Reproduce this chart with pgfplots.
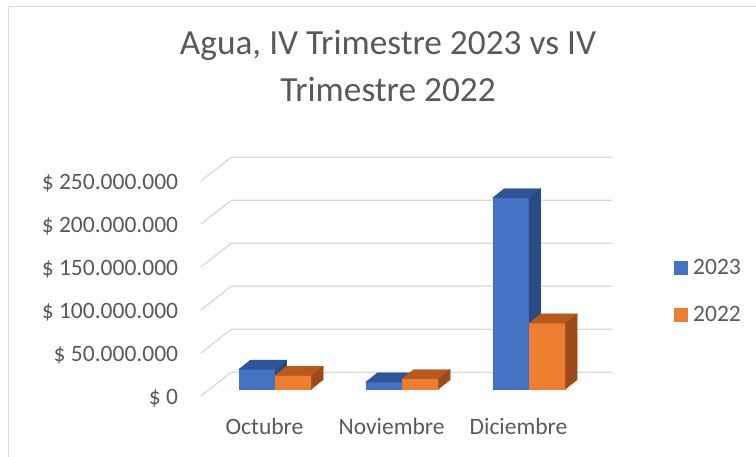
\documentclass[border=0pt]{standalone}
\usepackage{pgfplots}
\pgfplotsset{compat=1.18}
\usepackage{pgfplotstable}
\usepackage{fontspec}
\setmainfont{Carlito}
\definecolor{txt}{HTML}{595959}
\definecolor{grd}{HTML}{D9D9D9}
\definecolor{bF}{HTML}{4472C4}
\definecolor{bT}{HTML}{2F5597}
\definecolor{bS}{HTML}{2A4A82}
\definecolor{oF}{HTML}{ED7D31}
\definecolor{oT}{HTML}{B85A1E}
\definecolor{oS}{HTML}{9C4A19}

% values in millions of pesos
\pgfplotstableread{
idx v2023 v2022
0   22.8  15.7
1   8.0   11.9
2   222.3 76.6
}\datatable

\newcommand\fx{0.0705}
\newcommand\fy{8.1}
\newcommand\ddx{0.0921}
\newcommand\ddy{10.8}
\newcommand\cube[6]{%
  \pgfmathsetmacro\xl{#1+\fx}%
  \pgfmathsetmacro\xr{#2+\fx}%
  \pgfmathsetmacro\yb{\fy}%
  \pgfmathsetmacro\yt{#3+\fy}%
  \pgfmathsetmacro\xlb{\xl+\ddx}%
  \pgfmathsetmacro\xrb{\xr+\ddx}%
  \pgfmathsetmacro\ybb{\yb+\ddy}%
  \pgfmathsetmacro\ytb{\yt+\ddy}%
  \addplot[fill=#4, draw=#4, line width=0.3pt, forget plot] coordinates {(\xl,\yb) (\xr,\yb) (\xr,\yt) (\xl,\yt)} --cycle;
  \addplot[fill=#5, draw=#5, line width=0.3pt, forget plot] coordinates {(\xl,\yt) (\xr,\yt) (\xrb,\ytb) (\xlb,\ytb)} --cycle;
  \addplot[fill=#6, draw=#6, line width=0.3pt, forget plot] coordinates {(\xr,\yb) (\xrb,\ybb) (\xrb,\ytb) (\xr,\yt)} --cycle;
}

\begin{document}
\begin{tikzpicture}
\path[use as bounding box] (0,0) rectangle (756pt,-457pt);
\draw[grd, line width=1.2pt] (8.5pt,-457pt) -- (8.5pt,-6.5pt) -- (756pt,-6.5pt);
\node[anchor=base, text=txt, font=\fontsize{35.3}{42}\selectfont, inner sep=0pt] at (388pt,-55pt) {Agua, IV Trimestre 2023 vs IV};
\node[anchor=base, text=txt, font=\fontsize{35.3}{42}\selectfont, inner sep=0pt] at (388pt,-101.7pt) {Trimestre 2022};
\begin{axis}[
  at={(201pt,-396pt)}, anchor=south west,
  scale only axis, x=127pt, y=0.86pt,
  xmin=-0.5, xmax=2.7386, ymin=0, ymax=277.56,
  enlargelimits=false, clip=false,
  axis line style={draw=none}, tick style={draw=none},
  major tick length=0pt,
  xtick={0,1,2}, xticklabels={Octubre,Noviembre,Diciembre},
  ytick={0,50,100,150,200,250},
  yticklabels={\$ 0,\$ 50.000.000,\$ 100.000.000,\$ 150.000.000,\$ 200.000.000,\$ 250.000.000},
  ticklabel style={font=\fontsize{23.5}{28}\selectfont, text=txt, inner sep=0pt},
  xticklabel style={anchor=base, yshift=-38pt},
  yticklabel style={anchor=east, xshift=-22.7pt, yshift=-2pt},
  legend image code/.code={\fill[#1] (0pt,-7pt) rectangle (14pt,7pt);},
  legend style={draw=none, fill=none, at={(1.15,0.4378)}, anchor=west, inner sep=0pt,
    font=\fontsize{23.5}{28}\selectfont, text=txt, row sep=30pt, column sep=5pt,
    nodes={inner sep=0pt}},
  legend cell align=left,
]
\addplot[grd, line width=1.3pt, forget plot] coordinates {(-0.5,0) (-0.2614,27.56) (2.7386,27.56)};
\addplot[grd, line width=1.3pt, forget plot] coordinates {(-0.5,50) (-0.2614,77.56) (2.7386,77.56)};
\addplot[grd, line width=1.3pt, forget plot] coordinates {(-0.5,100) (-0.2614,127.56) (2.7386,127.56)};
\addplot[grd, line width=1.3pt, forget plot] coordinates {(-0.5,150) (-0.2614,177.56) (2.7386,177.56)};
\addplot[grd, line width=1.3pt, forget plot] coordinates {(-0.5,200) (-0.2614,227.56) (2.7386,227.56)};
\addplot[grd, line width=1.3pt, forget plot] coordinates {(-0.5,250) (-0.2614,277.56) (2.7386,277.56)};
\pgfplotsinvokeforeach{0,1,2}{
  \pgfplotstablegetelem{#1}{v2023}\of\datatable
  \let\va\pgfplotsretval
  \pgfplotstablegetelem{#1}{v2022}\of\datatable
  \let\vb\pgfplotsretval
  \cube{#1-0.274}{#1+0.0126}{\va}{bF}{bT}{bS}
  \cube{#1+0.0126}{#1+0.2992}{\vb}{oF}{oT}{oS}
}
\addlegendimage{fill=bF, draw=none}
\addlegendentry{2023}
\addlegendimage{fill=oF, draw=none}
\addlegendentry{2022}
\end{axis}
\end{tikzpicture}
\end{document}
